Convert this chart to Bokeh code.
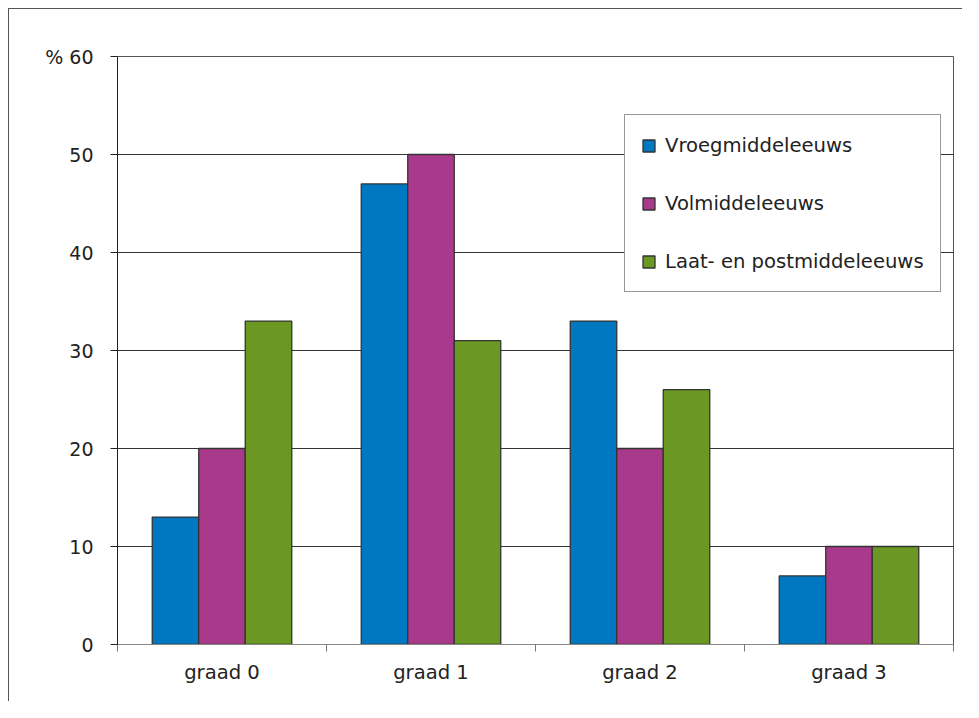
from bokeh.plotting import figure
from bokeh.layouts import column
from bokeh.models import FixedTicker, Range1d, Legend
from bokeh.embed import file_html
from bokeh.resources import INLINE

categories = ["graad 0", "graad 1", "graad 2", "graad 3"]
series_names = ["Vroegmiddeleeuws", "Volmiddeleeuws", "Laat- en postmiddeleeuws"]
vroeg = [13, 47, 33, 7]
vol = [20, 50, 20, 10]
laat = [33, 31, 26, 10]
y_ticks = [0, 10, 20, 30, 40, 50, 60]

colors = ["#0078C1", "#A93A8B", "#6A9823"]
FONT = "DejaVu Sans"
FS = "19px"
FS2 = "19.6px"

p = figure(width=954, height=693, output_backend="svg", toolbar_location=None,
           x_range=Range1d(0, len(categories)), y_range=Range1d(0, 60),
           min_border_left=108, min_border_top=47, min_border_right=10, min_border_bottom=58)
p.styles = {"border-top": "1px solid #555555", "border-left": "1px solid #555555"}

bw = 0.2225
offsets = [-bw, 0, bw]
legend_items = []
for k, (name, vals) in enumerate(zip(series_names, [vroeg, vol, laat])):
    xs = [i + 0.5 + offsets[k] for i in range(len(categories))]
    r = p.vbar(x=xs, top=vals, bottom=0, width=bw, fill_color=colors[k],
               line_color="#333333", line_width=1.3)
    legend_items.append((name, [r]))

# axes
p.xaxis.ticker = FixedTicker(ticks=[i + 0.5 for i in range(len(categories))],
                             minor_ticks=list(range(len(categories) + 1)))
p.xaxis.major_label_overrides = {i + 0.5: c for i, c in enumerate(categories)}
p.xaxis.major_tick_out = 0
p.xaxis.major_tick_in = 0
p.xaxis.minor_tick_out = 7
p.xaxis.minor_tick_in = 0
p.xaxis.minor_tick_line_color = "#777777"
p.xaxis.axis_line_color = "#888888"
p.xaxis.major_label_standoff = 9
p.xaxis.major_label_text_font = FONT
p.xaxis.major_label_text_font_size = FS2
p.xaxis.major_label_text_color = "#222222"

p.yaxis.ticker = FixedTicker(ticks=y_ticks)
p.yaxis.major_label_overrides = {60: "% 60"}
p.yaxis.major_tick_out = 7
p.yaxis.major_tick_in = 0
p.yaxis.minor_tick_line_color = None
p.yaxis.axis_line_color = "#222222"
p.yaxis.major_tick_line_color = "#222222"
p.yaxis.major_label_standoff = 17
p.yaxis.major_label_text_font = FONT
p.yaxis.major_label_text_font_size = FS
p.yaxis.major_label_text_color = "#222222"

p.xgrid.grid_line_color = None
p.ygrid.ticker = FixedTicker(ticks=y_ticks[1:])
p.ygrid.grid_line_color = "#333333"
p.ygrid.grid_line_width = 1
p.outline_line_color = "#555555"

legend = Legend(items=legend_items, location=(507, 352))
legend.padding = 16
legend.label_height = 28
legend.spacing = 30
legend.glyph_width = 15
legend.glyph_height = 15
legend.label_standoff = 9
legend.label_text_font = FONT
legend.label_text_font_size = FS2
legend.label_text_color = "#222222"
legend.border_line_color = "#333333"
legend.border_line_width = 1
legend.background_fill_alpha = 1
legend.margin = 0
p.add_layout(legend, "center")

layout = column(p, styles={"padding-left": "8px", "padding-top": "8px"})

open("out.html", "w").write(file_html(layout, INLINE))
